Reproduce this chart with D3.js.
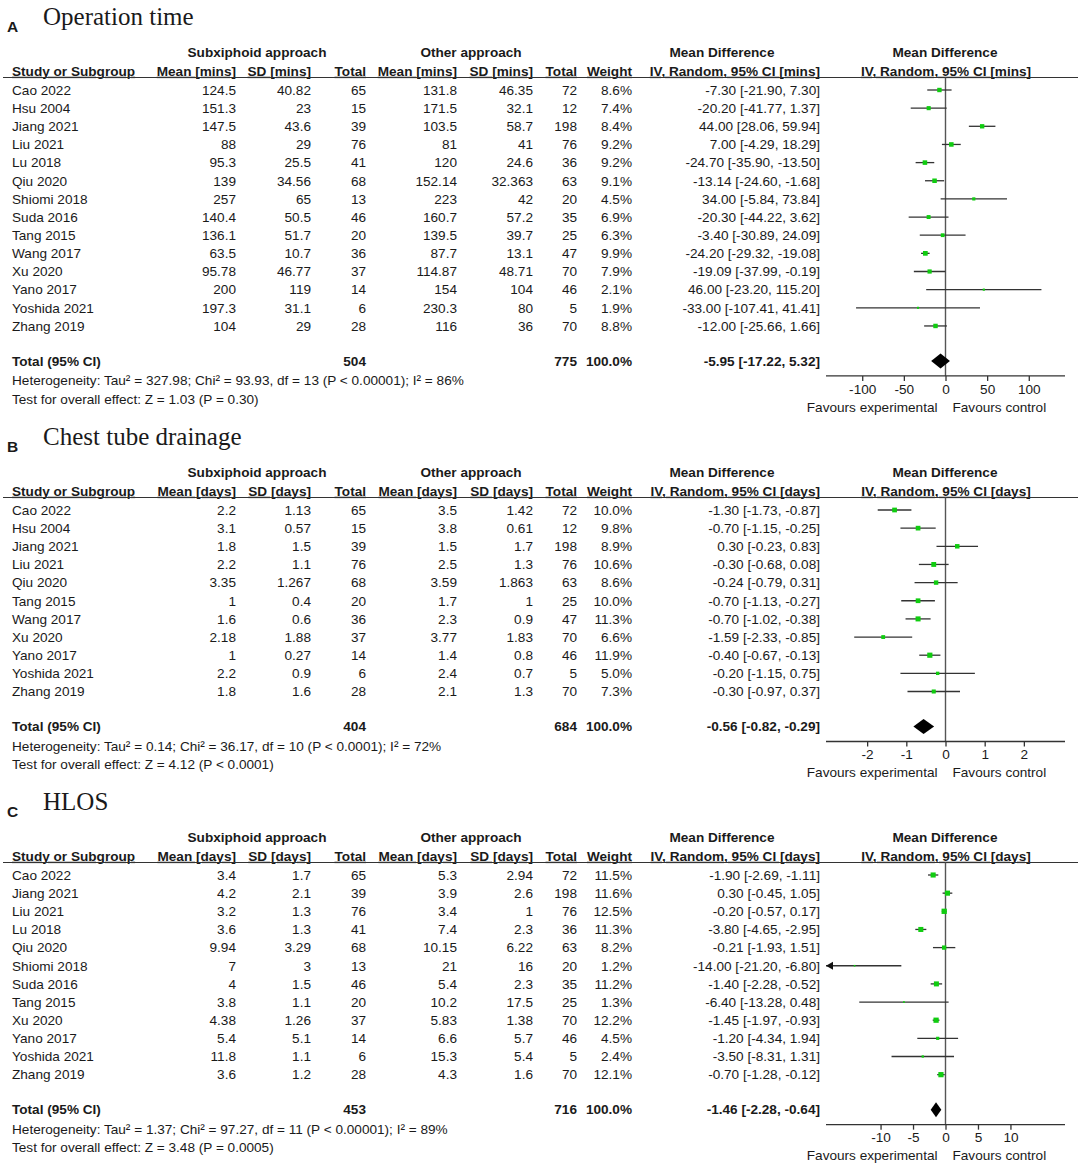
<!DOCTYPE html>
<html><head><meta charset="utf-8">
<script src="https://cdn.jsdelivr.net/npm/d3@7"></script>
<style>body{margin:0;background:#fff}</style>
</head><body><svg id="c" width="1080" height="1176"></svg>
<script>
// ---------- Panel A : Operation time ----------
const studiesA = ["Cao 2022","Hsu 2004","Jiang 2021","Liu 2021","Lu 2018","Qiu 2020","Shiomi 2018","Suda 2016","Tang 2015","Wang 2017","Xu 2020","Yano 2017","Yoshida 2021","Zhang 2019"];
const subMeanA = [124.5,151.3,147.5,88,95.3,139,257,140.4,136.1,63.5,95.78,200,197.3,104];
const subSdA   = [40.82,23,43.6,29,25.5,34.56,65,50.5,51.7,10.7,46.77,119,31.1,29];
const subNA    = [65,15,39,76,41,68,13,46,20,36,37,14,6,28];
const othMeanA = [131.8,171.5,103.5,81,120,152.14,223,160.7,139.5,87.7,114.87,154,230.3,116];
const othSdA   = [46.35,32.1,58.7,41,24.6,32.363,42,57.2,39.7,13.1,48.71,104,80,36];
const othNA    = [72,12,198,76,36,63,20,35,25,47,70,46,5,70];
const weightA  = [8.6,7.4,8.4,9.2,9.2,9.1,4.5,6.9,6.3,9.9,7.9,2.1,1.9,8.8];
const mdA      = [-7.30,-20.20,44.00,7.00,-24.70,-13.14,34.00,-20.30,-3.40,-24.20,-19.09,46.00,-33.00,-12.00];
const loA      = [-21.90,-41.77,28.06,-4.29,-35.90,-24.60,-5.84,-44.22,-30.89,-29.32,-37.99,-23.20,-107.41,-25.66];
const hiA      = [7.30,1.37,59.94,18.29,-13.50,-1.68,73.84,3.62,24.09,-19.08,-0.19,115.20,41.41,1.66];
const totalA   = {subN:504, othN:775, md:-5.95, lo:-17.22, hi:5.32};
const hetA  = "Heterogeneity: Tau² = 327.98; Chi² = 93.93, df = 13 (P < 0.00001); I² = 86%";
const testA = "Test for overall effect: Z = 1.03 (P = 0.30)";
const ticksA = [-100,-50,0,50,100];
const limA = 143.5;

// ---------- Panel B : Chest tube drainage ----------
const studiesB = ["Cao 2022","Hsu 2004","Jiang 2021","Liu 2021","Qiu 2020","Tang 2015","Wang 2017","Xu 2020","Yano 2017","Yoshida 2021","Zhang 2019"];
const subMeanB = [2.2,3.1,1.8,2.2,3.35,1,1.6,2.18,1,2.2,1.8];
const subSdB   = [1.13,0.57,1.5,1.1,1.267,0.4,0.6,1.88,0.27,0.9,1.6];
const subNB    = [65,15,39,76,68,20,36,37,14,6,28];
const othMeanB = [3.5,3.8,1.5,2.5,3.59,1.7,2.3,3.77,1.4,2.4,2.1];
const othSdB   = [1.42,0.61,1.7,1.3,1.863,1,0.9,1.83,0.8,0.7,1.3];
const othNB    = [72,12,198,76,63,25,47,70,46,5,70];
const weightB  = [10.0,9.8,8.9,10.6,8.6,10.0,11.3,6.6,11.9,5.0,7.3];
const mdB      = [-1.30,-0.70,0.30,-0.30,-0.24,-0.70,-0.70,-1.59,-0.40,-0.20,-0.30];
const loB      = [-1.73,-1.15,-0.23,-0.68,-0.79,-1.13,-1.02,-2.33,-0.67,-1.15,-0.97];
const hiB      = [-0.87,-0.25,0.83,0.08,0.31,-0.27,-0.38,-0.85,-0.13,0.75,0.37];
const totalB   = {subN:404, othN:684, md:-0.56, lo:-0.82, hi:-0.29};
const hetB  = "Heterogeneity: Tau² = 0.14; Chi² = 36.17, df = 10 (P < 0.0001); I² = 72%";
const testB = "Test for overall effect: Z = 4.12 (P < 0.0001)";
const ticksB = [-2,-1,0,1,2];
const limB = 3.05;

// ---------- Panel C : HLOS ----------
const studiesC = ["Cao 2022","Jiang 2021","Liu 2021","Lu 2018","Qiu 2020","Shiomi 2018","Suda 2016","Tang 2015","Xu 2020","Yano 2017","Yoshida 2021","Zhang 2019"];
const subMeanC = [3.4,4.2,3.2,3.6,9.94,7,4,3.8,4.38,5.4,11.8,3.6];
const subSdC   = [1.7,2.1,1.3,1.3,3.29,3,1.5,1.1,1.26,5.1,1.1,1.2];
const subNC    = [65,39,76,41,68,13,46,20,37,14,6,28];
const othMeanC = [5.3,3.9,3.4,7.4,10.15,21,5.4,10.2,5.83,6.6,15.3,4.3];
const othSdC   = [2.94,2.6,1,2.3,6.22,16,2.3,17.5,1.38,5.7,5.4,1.6];
const othNC    = [72,198,76,36,63,20,35,25,70,46,5,70];
const weightC  = [11.5,11.6,12.5,11.3,8.2,1.2,11.2,1.3,12.2,4.5,2.4,12.1];
const mdC      = [-1.90,0.30,-0.20,-3.80,-0.21,-14.00,-1.40,-6.40,-1.45,-1.20,-3.50,-0.70];
const loC      = [-2.69,-0.45,-0.57,-4.65,-1.93,-21.20,-2.28,-13.28,-1.97,-4.34,-8.31,-1.28];
const hiC      = [-1.11,1.05,0.17,-2.95,1.51,-6.80,-0.52,0.48,-0.93,1.94,1.31,-0.12];
const totalC   = {subN:453, othN:716, md:-1.46, lo:-2.28, hi:-0.64};
const hetC  = "Heterogeneity: Tau² = 1.37; Chi² = 97.27, df = 11 (P < 0.00001); I² = 89%";
const testC = "Test for overall effect: Z = 3.48 (P = 0.0005)";
const ticksC = [-10,-5,0,5,10];
const limC = 18.4;

const panelLetters = ["A","B","C"];
const panelTitles = ["Operation time","Chest tube drainage","HLOS"];
const panelUnits = ["mins","days","days"];

const panels = [
  {studies:studiesA, subMean:subMeanA, subSd:subSdA, subN:subNA, othMean:othMeanA, othSd:othSdA, othN:othNA, weight:weightA, md:mdA, lo:loA, hi:hiA, total:totalA, het:hetA, test:testA, ticks:ticksA, lim:limA, top:52},
  {studies:studiesB, subMean:subMeanB, subSd:subSdB, subN:subNB, othMean:othMeanB, othSd:othSdB, othN:othNB, weight:weightB, md:mdB, lo:loB, hi:hiB, total:totalB, het:hetB, test:testB, ticks:ticksB, lim:limB, top:472},
  {studies:studiesC, subMean:subMeanC, subSd:subSdC, subN:subNC, othMean:othMeanC, othSd:othSdC, othN:othNC, weight:weightC, md:mdC, lo:loC, hi:hiC, total:totalC, het:hetC, test:testC, ticks:ticksC, lim:limC, top:837}
];

const svg = d3.select("#c");
const SANS = "'Liberation Sans', Arial, sans-serif";
const SERIF = "'Liberation Serif', 'Times New Roman', serif";
const TXT = "#1a1a1a";
const GREEN = "#10cc10";
const ROW = 18.15;
const FS = 13.6;

function txt(g, x, y, s, opt={}) {
  return g.append("text").attr("x", x).attr("y", y).attr("dy", "0.35em")
    .attr("font-family", opt.family || SANS)
    .attr("font-size", opt.size || FS)
    .attr("font-weight", opt.bold ? "bold" : "normal")
    .attr("text-anchor", opt.anchor || "start")
    .attr("text-decoration", opt.underline ? "underline" : null)
    .attr("fill", TXT).text(s);
}
const fmt2 = v => v.toFixed(2);

panels.forEach((p, pi) => {
  const g = svg.append("g");
  const T = p.top;
  const u = panelUnits[pi];
  // title and letter
  txt(g, 7, T - 25, panelLetters[pi], {bold:true, size:15.5});
  txt(g, 43, T - 36, panelTitles[pi], {family:SERIF, size:25});
  // group headers
  txt(g, 257, T, "Subxiphoid approach", {bold:true, anchor:"middle"});
  txt(g, 471, T, "Other approach", {bold:true, anchor:"middle"});
  txt(g, 722, T, "Mean Difference", {bold:true, anchor:"middle"});
  txt(g, 945, T, "Mean Difference", {bold:true, anchor:"middle"});
  const H = T + 19;
  txt(g, 12, H, "Study or Subgroup", {bold:true, underline:true});
  const cols = [
    {x:236, head:`Mean [${u}]`, get:i => String(p.subMean[i])},
    {x:311, head:`SD [${u}]`, get:i => String(p.subSd[i])},
    {x:366, head:"Total", get:i => String(p.subN[i])},
    {x:457, head:`Mean [${u}]`, get:i => String(p.othMean[i])},
    {x:533, head:`SD [${u}]`, get:i => String(p.othSd[i])},
    {x:577, head:"Total", get:i => String(p.othN[i])},
    {x:632, head:"Weight", get:i => p.weight[i].toFixed(1) + "%"},
    {x:820, head:`IV, Random, 95% CI [${u}]`, get:i => `${fmt2(p.md[i])} [${fmt2(p.lo[i])}, ${fmt2(p.hi[i])}]`}
  ];
  cols.forEach(c => txt(g, c.x, H, c.head, {bold:true, underline:true, anchor:"end"}));
  txt(g, 946, H, `IV, Random, 95% CI [${u}]`, {bold:true, underline:true, anchor:"middle"});
  const lineY = T + 25.5;
  g.append("line").attr("x1", 3).attr("x2", 1078).attr("y1", lineY).attr("y2", lineY)
    .attr("stroke", "#333").attr("stroke-width", 1.2);

  const y0 = T + 38;
  const rowY = i => y0 + i * ROW;
  const n = p.studies.length;
  p.studies.forEach((s, i) => {
    txt(g, 12, rowY(i), s);
    cols.forEach(c => txt(g, c.x, rowY(i), c.get(i), {anchor:"end"}));
  });
  const totY = rowY(n - 1) + 35;
  txt(g, 12, totY, "Total (95% CI)", {bold:true});
  txt(g, 366, totY, String(p.total.subN), {bold:true, anchor:"end"});
  txt(g, 577, totY, String(p.total.othN), {bold:true, anchor:"end"});
  txt(g, 632, totY, "100.0%", {bold:true, anchor:"end"});
  txt(g, 820, totY, `${fmt2(p.total.md)} [${fmt2(p.total.lo)}, ${fmt2(p.total.hi)}]`, {bold:true, anchor:"end"});
  txt(g, 12, totY + 19.5, p.het);
  txt(g, 12, totY + 38, p.test);

  // forest
  const x = d3.scaleLinear().domain([-p.lim, p.lim]).range([826, 1065]);
  const axisY = totY + 15;
  g.append("line").attr("x1", x(0)).attr("x2", x(0)).attr("y1", lineY).attr("y2", axisY)
    .attr("stroke", "#555").attr("stroke-width", 1.4);
  const ax = d3.axisBottom(x).tickValues(p.ticks).tickSize(5).tickPadding(3).tickFormat(d3.format("d"));
  const axg = g.append("g").attr("transform", `translate(0,${axisY})`).call(ax);
  axg.select(".domain").attr("d", `M${x(-p.lim)},0H${x(p.lim)}`).attr("stroke", "#333").attr("stroke-width", 1.3);
  axg.selectAll(".tick line").attr("stroke", "#333").attr("stroke-width", 1.3);
  axg.selectAll(".tick text").attr("font-family", SANS).attr("font-size", FS).attr("fill", TXT)
    .text(d => String(d));
  txt(g, x(0) - 8, axisY + 31, "Favours experimental", {anchor:"end"});
  txt(g, x(0) + 7, axisY + 31, "Favours control");

  p.studies.forEach((s, i) => {
    const y = rowY(i);
    const a = Math.max(p.lo[i], -p.lim), b = Math.min(p.hi[i], p.lim);
    g.append("line").attr("x1", x(a)).attr("x2", x(b)).attr("y1", y).attr("y2", y)
      .attr("stroke", "#333").attr("stroke-width", 1.3);
    if (p.lo[i] < -p.lim) {
      const xa = x(-p.lim);
      g.append("path").attr("d", `M${xa},${y}L${xa+7},${y-4}L${xa+7},${y+4}Z`).attr("fill", "#111");
    }
    if (p.hi[i] > p.lim) {
      const xb = x(p.lim);
      g.append("path").attr("d", `M${xb},${y}L${xb-7},${y-4}L${xb-7},${y+4}Z`).attr("fill", "#111");
    }
    const side = 1.5 * Math.sqrt(p.weight[i]);
    g.append("rect").attr("x", x(p.md[i]) - side/2).attr("y", y - side/2)
      .attr("width", side).attr("height", side).attr("fill", GREEN);
  });
  const t = p.total;
  g.append("path").attr("d", `M${x(t.lo)},${totY}L${x(t.md)},${totY-7.5}L${x(t.hi)},${totY}L${x(t.md)},${totY+7.5}Z`)
    .attr("fill", "#000");
});
</script>
</body></html>
